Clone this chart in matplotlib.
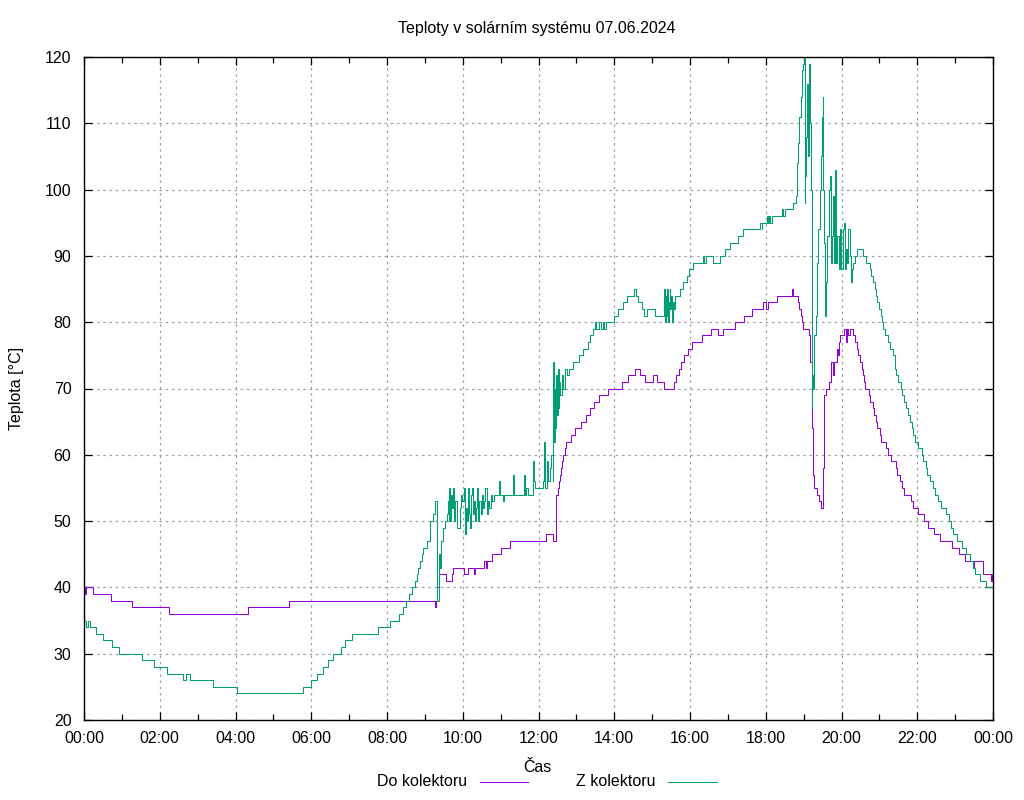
import numpy as np
import matplotlib.pyplot as plt
from matplotlib.lines import Line2D
from matplotlib.ticker import MultipleLocator

plt.rcParams['font.family'] = ['Liberation Sans', 'DejaVu Sans']

# cas v hodinach, teplota ve stupnich (schodovite prubehy)
do_t = [0.00, 0.02, 0.05, 0.25, 0.70, 1.28, 2.25, 4.34, 5.40, 9.27, 9.30, 9.33, 9.38,
        9.56, 9.71, 9.75, 10.02, 10.15, 10.30, 10.33, 10.57, 10.62, 10.65, 10.78, 11.00,
        11.25, 12.21, 12.39, 12.45, 12.51, 12.54, 12.57, 12.59, 12.63, 12.66, 12.70,
        12.73, 12.86, 12.96, 13.11, 13.25, 13.36, 13.46, 13.60, 13.84, 14.20, 14.35,
        14.54, 14.68, 14.82, 15.03, 15.14, 15.31, 15.58, 15.64, 15.70, 15.76, 15.84,
        15.95, 16.04, 16.33, 16.55, 16.75, 16.88, 17.20, 17.43, 17.65, 17.94, 18.00,
        18.06, 18.31, 18.70, 18.72, 18.84, 18.88, 18.92, 18.96, 18.99, 19.15, 19.17,
        19.21, 19.26, 19.28, 19.34, 19.41, 19.46, 19.52, 19.55, 19.58, 19.68, 19.71,
        19.77, 19.79, 19.87, 19.90, 19.94, 19.96, 20.07, 20.12, 20.14, 20.18, 20.22,
        20.31, 20.36, 20.40, 20.44, 20.49, 20.53, 20.56, 20.60, 20.62, 20.73, 20.75,
        20.84, 20.87, 20.91, 20.95, 21.02, 21.05, 21.18, 21.24, 21.30, 21.43, 21.46,
        21.54, 21.59, 21.65, 21.83, 21.90, 22.01, 22.18, 22.29, 22.43, 22.59, 22.93,
        23.09, 23.26, 23.48, 23.50, 23.73, 23.95, 23.97, 24.00]
do_v = [40, 39, 40, 39, 38, 37, 36, 37, 38, 37, 38, 40, 42,
        41, 42, 43, 42, 43, 42, 43, 44, 43, 44, 45, 46,
        47, 48, 47, 54, 55, 56, 57, 58, 59, 60, 61,
        62, 63, 64, 65, 66, 67, 68, 69, 70, 71, 72,
        73, 72, 71, 72, 71, 70, 71, 72, 73, 74, 75,
        76, 77, 78, 79, 78, 79, 80, 81, 82, 83, 82,
        83, 84, 85, 84, 83, 82, 81, 80, 79, 78, 74,
        64, 57, 55, 54, 53, 52, 58, 69, 70, 71, 74,
        72, 74, 76, 75, 77, 78, 79, 77, 79, 78, 79,
        78, 77, 76, 75, 74, 73, 72, 71, 70, 69, 68,
        67, 66, 65, 64, 63, 62, 61, 60, 59, 58, 57,
        56, 55, 54, 53, 52, 51, 50, 49, 48, 47, 46,
        45, 44, 43, 44, 42, 41, 42, 41]

z_t = [0.00, 0.05, 0.11, 0.16, 0.33, 0.51, 0.73, 0.93, 1.54, 1.85, 2.20, 2.62, 2.68,
       2.80, 3.40, 4.05, 5.79, 5.99, 6.14, 6.32, 6.45, 6.58, 6.78, 6.89, 7.07, 7.75,
       8.08, 8.32, 8.41, 8.50, 8.59, 8.65, 8.74, 8.78, 8.83, 8.87, 8.92, 8.96, 9.05,
       9.14, 9.22, 9.27, 9.31, 9.33, 9.36, 9.38, 9.40, 9.42, 9.49, 9.53, 9.58, 9.61,
       9.63, 9.65, 9.67, 9.70, 9.72, 9.75, 9.77, 9.79, 9.84, 9.86, 9.90, 9.93, 9.96,
       9.99, 10.02, 10.04, 10.06, 10.08, 10.11, 10.13, 10.16, 10.19, 10.21, 10.24,
       10.26, 10.29, 10.32, 10.35, 10.38, 10.41, 10.44, 10.47, 10.50, 10.53, 10.56,
       10.60, 10.63, 10.66, 10.70, 10.74, 10.78, 10.83, 10.95, 10.98, 11.05, 11.10,
       11.32, 11.35, 11.62, 11.65, 11.68, 11.72, 11.86, 11.89, 11.92, 12.08, 12.12,
       12.15, 12.18, 12.22, 12.25, 12.30, 12.34, 12.37, 12.39, 12.41, 12.43, 12.45,
       12.47, 12.49, 12.51, 12.53, 12.55, 12.58, 12.62, 12.66, 12.70, 12.74, 12.80,
       12.92, 13.08, 13.18, 13.31, 13.36, 13.45, 13.50, 13.53, 13.61, 13.65, 13.70,
       13.74, 13.78, 14.00, 14.11, 14.22, 14.33, 14.51, 14.58, 14.64, 14.72, 14.79,
       14.87, 15.07, 15.31, 15.33, 15.36, 15.38, 15.40, 15.42, 15.44, 15.46, 15.48,
       15.50, 15.52, 15.55, 15.58, 15.60, 15.73, 15.82, 15.91, 15.98, 16.08, 16.35,
       16.38, 16.41, 16.62, 16.79, 16.93, 17.06, 17.28, 17.41, 17.85, 17.89, 17.91,
       18.02, 18.05, 18.08, 18.12, 18.16, 18.42, 18.46, 18.51, 18.73, 18.80, 18.83,
       18.86, 18.88, 18.92, 18.96, 18.99, 19.01, 19.03, 19.04, 19.05, 19.08, 19.10,
       19.12, 19.14, 19.16, 19.19, 19.21, 19.23, 19.26, 19.28, 19.32, 19.34, 19.39,
       19.43, 19.46, 19.48, 19.50, 19.52, 19.54, 19.56, 19.58, 19.61, 19.63, 19.67,
       19.70, 19.71, 19.74, 19.77, 19.80, 19.83, 19.85, 19.89, 19.93, 19.96, 19.99,
       20.03, 20.07, 20.09, 20.12, 20.15, 20.18, 20.22, 20.24, 20.28, 20.31, 20.35,
       20.40, 20.57, 20.64, 20.75, 20.78, 20.84, 20.88, 20.91, 20.95, 20.99, 21.03,
       21.06, 21.10, 21.16, 21.22, 21.28, 21.35, 21.40, 21.44, 21.50, 21.56, 21.61,
       21.66, 21.70, 21.75, 21.81, 21.85, 21.90, 21.94, 22.01, 22.12, 22.16, 22.22,
       22.27, 22.34, 22.41, 22.47, 22.54, 22.64, 22.76, 22.85, 22.89, 22.95, 23.04,
       23.19, 23.30, 23.39, 23.48, 23.52, 23.65, 23.81, 24.00]
z_v = [35, 34, 35, 34, 33, 32, 31, 30, 29, 28, 27, 26, 27,
       26, 25, 24, 25, 26, 27, 28, 29, 30, 31, 32, 33, 34,
       35, 36, 37, 38, 39, 40, 41, 42, 43, 44, 45, 46, 47,
       50, 51, 53, 52, 38, 40, 45, 43, 47, 49, 50, 51, 53,
       50, 55, 50, 54, 52, 55, 50, 53, 53, 49, 49, 52, 54,
       53, 54, 55, 48, 52, 50, 55, 51, 49, 54, 55,
       51, 53, 50, 52, 55, 50, 53, 51, 54, 52, 53,
       55, 51, 53, 52, 54, 53, 54, 56, 54, 53, 54,
       57, 54, 57, 54, 55, 54, 59, 56, 55, 55, 56,
       62, 55, 59, 56, 58, 60, 56, 74, 62, 70, 64,
       72, 66, 73, 67, 71, 69, 72, 70, 73, 72, 73,
       74, 75, 76, 77, 78, 79, 80, 79, 80, 79, 80,
       79, 80, 81, 82, 83, 84, 85, 84, 83, 82, 81,
       82, 81, 85, 80, 84, 81, 85, 80, 83, 85, 82,
       84, 80, 83, 82, 84, 85, 86, 87, 88, 89, 90,
       89, 90, 89, 90, 91, 92, 93, 94, 95, 94, 95,
       96, 95, 96, 95, 96, 97, 96, 97, 98, 99, 104,
       107, 111, 114, 118, 119, 120, 98, 102, 108, 112, 116,
       105, 119, 110, 100, 67, 72, 70, 78, 81, 89, 94,
       100, 105, 111, 114, 100, 92, 81, 86, 89, 93, 100,
       102, 89, 93, 99, 89, 103, 89, 93, 88, 94, 88,
       94, 95, 88, 91, 89, 94, 90, 86, 88, 89, 90,
       91, 90, 89, 88, 87, 86, 85, 84, 83, 82, 81,
       80, 79, 78, 77, 76, 75, 73, 72, 71, 70, 69,
       68, 67, 66, 65, 64, 63, 62, 61, 60, 59, 58,
       57, 56, 55, 54, 53, 52, 51, 50, 49, 48, 47,
       46, 45, 44, 43, 42, 41, 40, 40]

fialova = '#9400d3'
zelena = '#009e73'
fs = 11.5

fig = plt.figure(figsize=(10.24, 8), dpi=100)
ax = fig.add_axes([84/1024, 80/800, 909/1024, 663/800])

ax.plot(do_t, do_v, color=fialova, lw=0.75, drawstyle='steps-post')
ax.plot(z_t, z_v, color=zelena, lw=0.75, drawstyle='steps-post')

ax.set_xlim(0, 24)
ax.set_ylim(20, 120)
ax.xaxis.set_major_locator(MultipleLocator(2))
ax.xaxis.set_minor_locator(MultipleLocator(1))
ax.yaxis.set_major_locator(MultipleLocator(10))
ax.set_xticklabels(['%02d:00' % (h % 24) for h in range(-2, 26, 2)])
ax.tick_params(which='both', direction='in', top=True, right=True, labelsize=fs, width=0.9)
ax.tick_params(which='major', length=6)
ax.tick_params(which='minor', length=4)
ax.tick_params(axis='x', pad=8)
ax.tick_params(axis='y', pad=9)
ax.grid(True, which='major', color='#a0a0a0', ls=(0, (2, 3)), lw=0.9)
for s in ax.spines.values():
    s.set_linewidth(1.0)

fig.text(537/1024, 1 - 28/800, 'Teploty v solárním systému 07.06.2024', ha='center', va='center', fontsize=fs)
fig.text(537/1024, 1 - 767/800, 'Čas', ha='center', va='center', fontsize=fs)
fig.text(17/1024, 1 - 388/800, 'Teplota [°C]', ha='center', va='center', rotation=90, fontsize=fs)

# legenda pod grafem
fig.text(467/1024, 1 - 781/800, 'Do kolektoru', ha='right', va='center', fontsize=fs)
fig.add_artist(Line2D([480/1024, 528/1024], [1 - 782/800] * 2, color=fialova, lw=0.75))
fig.text(655/1024, 1 - 781/800, 'Z kolektoru', ha='right', va='center', fontsize=fs)
fig.add_artist(Line2D([668/1024, 717/1024], [1 - 782/800] * 2, color=zelena, lw=0.75))

fig.savefig('out.png', dpi=100)
